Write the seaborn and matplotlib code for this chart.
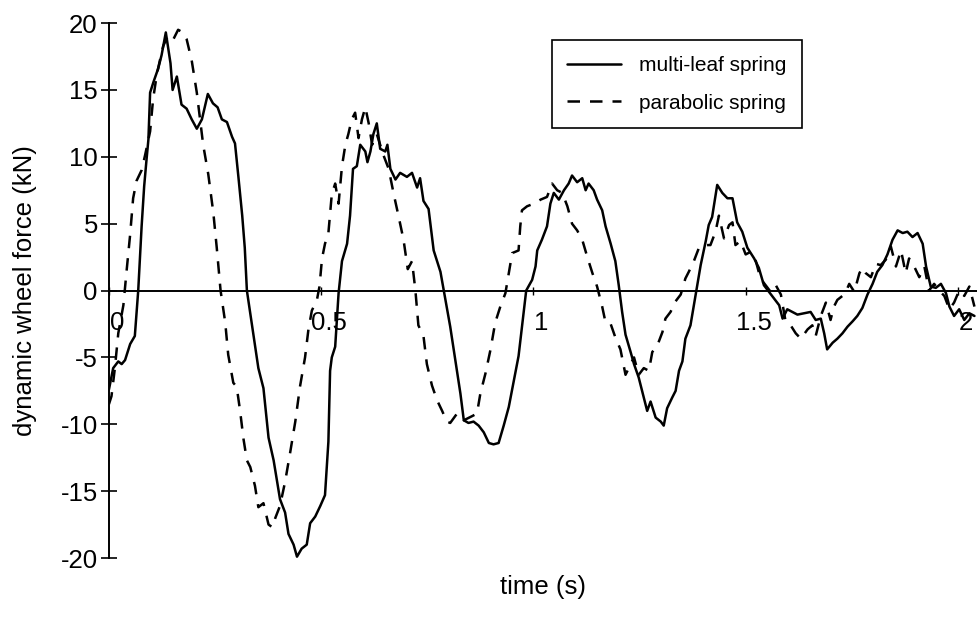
import numpy as np
import pandas as pd
import matplotlib
matplotlib.use("Agg")
import matplotlib.pyplot as plt
import matplotlib.transforms as mtransforms
import seaborn as sns

# ---------------- data ----------------
time_multi = [0.000, 0.010, 0.022, 0.030, 0.038, 0.050, 0.061, 0.069, 0.077, 0.083, 0.088, 0.093, 0.097,
              0.105, 0.116, 0.124, 0.134, 0.145, 0.150, 0.160, 0.171, 0.183, 0.195, 0.207, 0.219, 0.233,
              0.245, 0.256, 0.266, 0.278, 0.290, 0.297, 0.305, 0.314, 0.320, 0.325, 0.340, 0.352, 0.364,
              0.376, 0.388, 0.403, 0.415, 0.423, 0.435, 0.443, 0.454, 0.466, 0.474, 0.486, 0.498, 0.509,
              0.517, 0.521, 0.525, 0.533, 0.541, 0.549, 0.561, 0.568, 0.575, 0.584, 0.592, 0.604, 0.609,
              0.616, 0.623, 0.631, 0.639, 0.651, 0.656, 0.663, 0.675, 0.686, 0.702, 0.714, 0.726, 0.733,
              0.741, 0.753, 0.765, 0.781, 0.790, 0.804, 0.816, 0.828, 0.836, 0.847, 0.859, 0.871, 0.883,
              0.895, 0.906, 0.918, 0.930, 0.942, 0.954, 0.965, 0.973, 0.983, 0.997, 1.005, 1.009, 1.020,
              1.032, 1.040, 1.048, 1.060, 1.072, 1.083, 1.091, 1.103, 1.115, 1.123, 1.130, 1.142, 1.150,
              1.162, 1.170, 1.182, 1.193, 1.201, 1.209, 1.217, 1.229, 1.237, 1.248, 1.260, 1.268, 1.276,
              1.288, 1.300, 1.307, 1.315, 1.327, 1.335, 1.343, 1.351, 1.358, 1.370, 1.378, 1.386, 1.394,
              1.406, 1.413, 1.421, 1.433, 1.445, 1.457, 1.469, 1.480, 1.492, 1.504, 1.520, 1.531, 1.543,
              1.555, 1.567, 1.579, 1.587, 1.598, 1.610, 1.622, 1.637, 1.653, 1.665, 1.677, 1.685, 1.692,
              1.705, 1.716, 1.728, 1.740, 1.752, 1.763, 1.775, 1.787, 1.799, 1.810, 1.822, 1.834, 1.846,
              1.858, 1.870, 1.881, 1.893, 1.905, 1.917, 1.925, 1.936, 1.948, 1.960, 1.972, 1.980, 1.991,
              2.003, 2.015, 2.027, 2.039]
force_multi = [-7.4, -5.8, -5.3, -5.5, -5.2, -4.0, -3.4, 0.0, 4.8, 7.8, 9.6, 11.3, 14.8,
               15.6, 16.6, 17.6, 19.3, 17.0, 15.0, 16.0, 13.9, 13.6, 12.8, 12.1, 12.8, 14.7,
               14.0, 13.7, 12.8, 12.6, 11.5, 11.0, 8.5, 5.6, 3.2, 0.0, -3.2, -5.8, -7.3,
               -11.0, -12.7, -15.6, -16.6, -18.2, -19.0, -19.9, -19.3, -19.0, -17.4, -16.9, -16.1, -15.3,
               -11.3, -6.0, -5.0, -4.2, -0.2, 2.2, 3.5, 5.6, 9.1, 9.3, 10.9, 10.4, 9.6,
               10.4, 11.7, 12.5, 10.6, 10.4, 10.9, 9.1, 8.3, 8.8, 8.5, 8.8, 7.7, 8.4,
               6.7, 6.1, 3.0, 1.4, -0.2, -2.7, -5.2, -7.7, -9.7, -9.9, -9.8, -10.1, -10.6,
               -11.4, -11.5, -11.4, -10.1, -8.7, -6.7, -4.9, -2.7, 0.0, 0.8, 1.8, 3.0, 3.8,
               4.8, 6.5, 7.3, 6.8, 7.5, 8.0, 8.6, 8.1, 8.4, 7.5, 8.0, 7.5, 6.8,
               6.0, 4.8, 3.5, 2.2, 0.4, -1.6, -3.3, -4.6, -5.5, -6.5, -8.0, -9.0, -8.3,
               -9.5, -9.8, -10.1, -8.8, -8.0, -7.5, -6.0, -5.3, -3.6, -2.6, -1.1, 0.4, 1.9,
               3.7, 4.9, 5.5, 7.9, 7.3, 6.9, 6.9, 5.1, 4.4, 3.2, 2.4, 1.7, 0.4,
               -0.1, -0.6, -1.1, -2.1, -1.4, -1.6, -1.8, -1.7, -1.6, -2.2, -2.1, -3.2, -4.4,
               -3.9, -3.6, -3.2, -2.7, -2.3, -1.9, -1.3, -0.3, 0.5, 1.4, 1.9, 2.7, 3.8,
               4.5, 4.3, 4.4, 4.0, 4.3, 3.5, 1.8, 0.3, 0.2, 0.5, -0.2, -1.2, -1.9,
               -1.4, -2.2, -1.7, -1.9]

time_parab = [0.000, 0.006, 0.014, 0.022, 0.034, 0.042, 0.050, 0.057, 0.065, 0.077, 0.085, 0.097, 0.104,
              0.113, 0.120, 0.128, 0.140, 0.152, 0.163, 0.174, 0.183, 0.195, 0.207, 0.215, 0.222, 0.234,
              0.246, 0.254, 0.263, 0.274, 0.281, 0.293, 0.301, 0.309, 0.317, 0.325, 0.333, 0.344, 0.352,
              0.364, 0.376, 0.385, 0.392, 0.403, 0.415, 0.427, 0.439, 0.450, 0.462, 0.470, 0.478, 0.490,
              0.496, 0.502, 0.509, 0.517, 0.525, 0.533, 0.541, 0.549, 0.557, 0.564, 0.572, 0.580, 0.588,
              0.596, 0.604, 0.612, 0.620, 0.631, 0.647, 0.659, 0.671, 0.682, 0.694, 0.704, 0.714, 0.722,
              0.729, 0.741, 0.749, 0.761, 0.773, 0.785, 0.796, 0.804, 0.820, 0.836, 0.855, 0.867, 0.875,
              0.887, 0.899, 0.910, 0.922, 0.934, 0.942, 0.950, 0.965, 0.969, 0.973, 0.985, 1.001, 1.017,
              1.032, 1.044, 1.056, 1.068, 1.080, 1.091, 1.103, 1.115, 1.127, 1.139, 1.150, 1.162, 1.170,
              1.182, 1.193, 1.205, 1.217, 1.229, 1.237, 1.248, 1.260, 1.272, 1.280, 1.292, 1.304, 1.311,
              1.323, 1.335, 1.347, 1.358, 1.366, 1.378, 1.390, 1.402, 1.417, 1.429, 1.437, 1.449, 1.461,
              1.469, 1.476, 1.488, 1.500, 1.512, 1.524, 1.535, 1.547, 1.559, 1.571, 1.583, 1.594, 1.606,
              1.618, 1.630, 1.646, 1.657, 1.665, 1.677, 1.689, 1.700, 1.708, 1.716, 1.728, 1.736, 1.744,
              1.756, 1.768, 1.775, 1.783, 1.795, 1.807, 1.818, 1.830, 1.842, 1.854, 1.866, 1.877, 1.885,
              1.897, 1.909, 1.921, 1.932, 1.944, 1.956, 1.968, 1.980, 1.991, 2.003, 2.015, 2.027, 2.039]
force_parab = [-8.5, -7.9, -5.8, -3.2, -1.1, 1.6, 4.2, 6.9, 8.2, 9.0, 10.1, 11.9, 14.3,
               16.2, 17.2, 18.3, 19.1, 18.8, 19.5, 19.3, 18.8, 17.2, 14.8, 12.7, 10.9, 8.7,
               5.8, 3.2, 0.0, -2.4, -4.8, -6.9, -7.2, -9.0, -11.1, -12.7, -13.2, -14.6, -16.2,
               -15.9, -17.5, -17.7, -17.0, -16.1, -14.3, -12.1, -9.8, -7.2, -5.0, -2.9, -1.5, -0.7,
               0.3, 2.4, 3.5, 4.3, 7.2, 8.0, 6.5, 9.3, 10.9, 11.7, 12.8, 13.3, 11.4,
               12.8, 13.7, 12.5, 10.9, 11.7, 10.1, 9.1, 7.2, 5.6, 3.8, 1.6, 2.2, 0.0,
               -2.6, -3.4, -5.5, -7.1, -8.2, -9.0, -9.8, -9.9, -9.2, -9.7, -9.4, -9.2, -7.7,
               -6.2, -4.4, -2.4, -1.2, -0.2, 1.3, 2.8, 3.0, 4.8, 6.0, 6.3, 6.5, 6.8,
               7.0, 8.0, 7.5, 7.3, 6.3, 5.0, 4.5, 3.8, 2.5, 1.3, 0.3, -1.2, -2.4,
               -2.5, -3.5, -4.4, -6.3, -5.5, -5.0, -6.3, -5.8, -6.0, -4.6, -4.1, -3.1, -2.1,
               -1.6, -0.8, -0.3, 0.9, 1.4, 2.2, 3.2, 3.4, 3.4, 4.4, 5.6, 3.9, 4.9,
               5.1, 3.4, 3.7, 2.7, 2.9, 2.2, 0.9, 0.4, -0.1, 0.4, -0.3, -2.3, -2.6,
               -3.2, -3.6, -2.9, -2.6, -3.4, -1.9, -0.9, -2.2, -1.2, -0.7, -0.4, -0.1, 0.5,
               -0.1, 1.3, 1.7, 1.3, 1.0, 2.0, 1.9, 2.3, 3.3, 1.8, 3.0, 1.3, 2.4,
               1.8, 1.0, 1.8, 0.0, 0.5, 0.0, -0.4, -1.4, -0.9, 0.0, -0.4, 0.3, -1.2]

series_labels = ["multi-leaf spring", "parabolic spring"]
x_ticks = [0, 0.5, 1, 1.5, 2]
x_tick_labels = ["0", "0.5", "1", "1.5", "2"]
y_ticks = [-20, -15, -10, -5, 0, 5, 10, 15, 20]
x_label = "time (s)"
y_label = "dynamic wheel force (kN)"

# ---------------- figure ----------------
sns.set_theme(style="white")
plt.rcParams["font.family"] = ["Liberation Sans", "DejaVu Sans"]
plt.rcParams["text.color"] = "black"
plt.rcParams["axes.labelcolor"] = "black"
plt.rcParams["xtick.color"] = "black"
plt.rcParams["ytick.color"] = "black"

fig = plt.figure(figsize=(9.77, 6.17), dpi=100)
ax = fig.add_axes([0.1115, 0.0956, 0.8885, 0.867])

df_multi = pd.DataFrame({"t": time_multi, "f": force_multi})
df_parab = pd.DataFrame({"t": time_parab, "f": force_parab})

sns.lineplot(data=df_multi, x="t", y="f", ax=ax, color="black", linewidth=1.8,
             estimator=None, sort=False, label=series_labels[0])
sns.lineplot(data=df_parab, x="t", y="f", ax=ax, color="black", linewidth=1.8,
             linestyle=(0, (5, 4)), estimator=None, sort=False, label=series_labels[1])

ax.set_xlim(0, 2.045)
ax.set_ylim(-20, 20)

# spines: left axis and a horizontal axis through zero
for s in ["top", "right"]:
    ax.spines[s].set_visible(False)
ax.spines["bottom"].set_position(("data", 0))
for s in ["left", "bottom"]:
    ax.spines[s].set_color("black")
    ax.spines[s].set_linewidth(1.4)

ax.set_yticks(y_ticks)
ax.set_yticklabels([str(v) for v in y_ticks])
ax.set_xticks(x_ticks)
ax.set_xticklabels(x_tick_labels)

ax.tick_params(axis="y", direction="inout", length=12, width=1.2, color="black",
               labelcolor="black", labelsize=18.5, pad=2, left=True)
ax.tick_params(axis="x", direction="inout", length=6, width=1.0, color="black",
               labelcolor="black", labelsize=18.5, pad=12, bottom=True)

offset = mtransforms.ScaledTranslation(8 / 100, 0, fig.dpi_scale_trans)
for lab in ax.get_xticklabels():
    lab.set_transform(lab.get_transform() + offset)

ax.set_xlabel(x_label, fontsize=18.5, color="black")
ax.set_ylabel(y_label, fontsize=18.5, color="black")
ax.xaxis.set_label_coords(0.5, -0.032)
ax.yaxis.set_label_coords(-0.083, 0.5)
ax.grid(False)

leg = ax.legend(loc="upper left", bbox_to_anchor=(0.510, 0.968), fontsize=15,
                frameon=True, fancybox=False, shadow=False, framealpha=1,
                edgecolor="black", handlelength=2.6, handletextpad=0.85,
                labelspacing=0.9, borderpad=0.75, borderaxespad=0)
leg.get_frame().set_linewidth(1.2)
for txt in leg.get_texts():
    txt.set_color("black")

fig.savefig("out.png", dpi=100, facecolor="white")
